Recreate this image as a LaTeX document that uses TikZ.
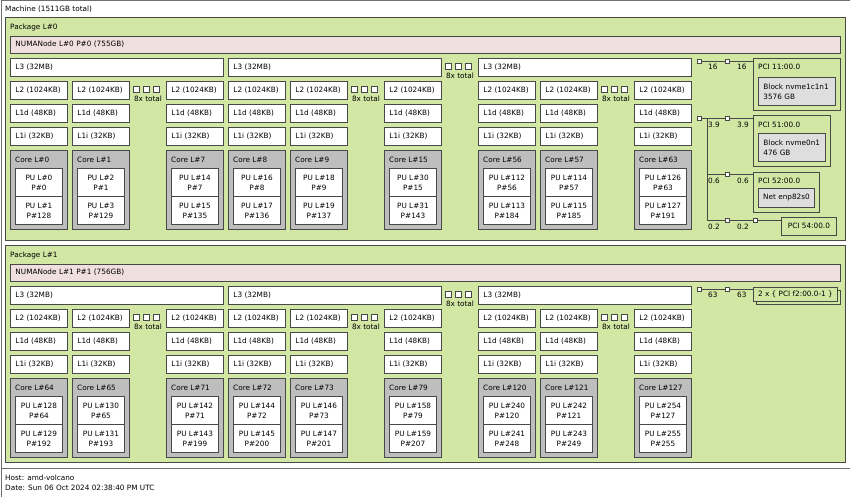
\documentclass[tikz,border=0pt]{standalone}
\usepackage{fontspec}
\setmainfont{DejaVu Sans}
\usepackage{tikz}
\usetikzlibrary{positioning, calc}
\definecolor{pkggreen}{RGB}{210,231,164}
\definecolor{numapink}{RGB}{239,223,222}
\definecolor{coregray}{RGB}{190,190,190}
\definecolor{devgray}{RGB}{222,222,222}
\definecolor{hwline}{RGB}{72,72,72}
\definecolor{frameline}{RGB}{110,110,110}
\tikzset{
  hwbox/.style={draw=hwline, line width=0.9pt, anchor=north west, inner sep=0pt},
  machbox/.style={hwbox, draw=frameline, fill=white},
  pkgbox/.style={hwbox, fill=pkggreen},
  numabox/.style={hwbox, fill=numapink, inner xsep=5pt, align=left,
    text height=5.3pt, text depth=1.5pt},
  cache/.style={hwbox, fill=white, minimum height=18pt, inner xsep=5pt,
    text width=47pt, align=left, text height=5.3pt, text depth=1.5pt},
  corebox/.style={hwbox, fill=coregray, minimum width=57pt, minimum height=79pt},
  pubox/.style={hwbox, fill=white, minimum width=47pt, minimum height=28pt, align=center},
  pcibox/.style={hwbox, fill=pkggreen, text height=5.3pt, text depth=1.5pt},
  devbox/.style={hwbox, fill=devgray, inner xsep=5pt, align=left},
  lbl/.style={anchor=west, inner sep=0pt},
  linksq/.style={draw=hwline, fill=white, line width=0.8pt, minimum size=4pt, inner sep=0pt},
  moresq/.style={draw=hwline, fill=white, line width=0.8pt, minimum size=6pt, inner sep=0pt},
  link/.style={draw=hwline, line width=0.9pt}
}

\begin{document}
\begin{tikzpicture}[x=1pt, y=-1pt, font=\fontsize{7.3}{10}\selectfont]
  \useasboundingbox (0,0) rectangle (850,497);

  % machine and legend
  \node[machbox, minimum width=849pt, minimum height=467.5pt] (machine) at (0.5,0.5) {};
  \node[lbl] (machinelbl) at (5,9) {Machine (1511GB total)};
  \node[machbox, minimum width=849pt, minimum height=28.5pt] (legend) at (0.5,468) {};
  \node[lbl] (host) at (5,478) {Host: amd-volcano};
  \node[lbl] (date) at (5,488) {Date: Sun 06 Oct 2024 02:38:40 PM UTC};

  % packages
  \foreach \p/\mem/\pkt/\pkh in {0/755/17/223, 1/756/245/217} {
    \pgfmathsetmacro\dy{228*\p}
    \node[pkgbox, minimum width=840pt, minimum height=\pkh] (pkg\p) at (5,\pkt) {};
    \node[lbl] (pkglbl\p) at (10,{27+\dy}) {Package L\#\p};
    \node[numabox, minimum width=830pt, minimum height=17pt, text width=820pt] (numa\p)
      at (10,{36+\dy}) {NUMANode L\#\p{} P\#\p{} (\mem GB)};
    \foreach \lx [count=\li] in {10,228,478}
      \node[cache, text width=203pt] (l3-\p-\li) at (\lx,{58+\dy}) {L3 (32MB)};
    \foreach \gx/\gy/\gn in {147.5/81/a, 365.5/81/b, 615.5/81/c, 459.5/58/d} {
      \foreach \k in {-1,0,1}
        \node[moresq] (more-\p-\gn\k) at ({\gx-1+10*\k},{\gy+8+\dy}) {};
      \node[inner sep=0pt] (moretxt-\p-\gn) at ({\gx+0.5},{\gy+18+\dy}) {8x total};
    }
    \foreach \cx/\cn in {10/0,72/1,166/7,228/8,290/9,384/15,478/56,540/57,634/63} {
      \pgfmathtruncatemacro\cid{\cn+64*\p}
      \pgfmathtruncatemacro\pua{2*\cid}
      \pgfmathtruncatemacro\pub{2*\cid+1}
      \pgfmathtruncatemacro\pph{\cid+128}
      \node[cache] (l2-\cid) at (\cx,{81+\dy}) {L2 (1024KB)};
      \node[cache] (l1d-\cid) at (\cx,{104+\dy}) {L1d (48KB)};
      \node[cache] (l1i-\cid) at (\cx,{127+\dy}) {L1i (32KB)};
      \node[corebox] (core-\cid) at (\cx,{150+\dy}) {};
      \node[lbl] (corelbl-\cid) at ({\cx+5},{160+\dy}) {Core L\#\cid};
      \node[pubox] (pu-\pua) at ({\cx+5},{168+\dy}) {PU L\#\pua\\P\#\cid};
      \node[pubox] (pu-\pub) at ({\cx+5},{196+\dy}) {PU L\#\pub\\P\#\pph};
    }
  }

  % I/O of package 0
  \node[linksq] (hb0) at (699,61) {};
  \node[linksq] (sw0) at (727,61) {};
  \node[pcibox, minimum width=87pt, minimum height=52pt] (pci11) at (753,58) {};
  \node[lbl] (pci11lbl) at (758,67) {PCI 11:00.0};
  \node[devbox, text width=67pt, minimum height=28pt] (blk1) at (758,77) {Block nvme1c1n1\\3576 GB};
  \draw[link] (hb0) -- (sw0) -- (sw0 -| pci11.west);
  \node[lbl] (bw0a) at (708,67) {16};
  \node[lbl] (bw0b) at (737,67) {16};

  \node[linksq] (hb1) at (699,118) {};
  \node[linksq] (sw1) at (727,118) {};
  \coordinate (bus1) at (707,118);
  \node[pcibox, minimum width=77pt, minimum height=51pt] (pci51) at (753,115) {};
  \node[lbl] (pci51lbl) at (758,125) {PCI 51:00.0};
  \node[devbox, text width=57pt, minimum height=28pt] (blk2) at (758,133) {Block nvme0n1\\476 GB};
  \draw[link] (hb1) -- (sw1) -- (sw1 -| pci51.west);
  \node[lbl] (bw1a) at (708,125) {3.9};
  \node[lbl] (bw1b) at (737,125) {3.9};

  \node[linksq] (sw2) at (727,174) {};
  \node[pcibox, minimum width=66pt, minimum height=40pt] (pci52) at (753,172) {};
  \node[lbl] (pci52lbl) at (758,181) {PCI 52:00.0};
  \node[hwbox, fill=devgray, minimum width=56pt, minimum height=19pt] (net0) at (758,188) {Net enp82s0};
  \draw[link] (bus1) |- (sw2) -- (sw2 -| pci52.west);
  \node[lbl] (bw2a) at (708,181) {0.6};
  \node[lbl] (bw2b) at (737,181) {0.6};

  \node[linksq] (sw3) at (727,220) {};
  \node[linksq] (sw4) at (755,220) {};
  \node[pcibox, minimum width=55pt, minimum height=18pt] (pci54) at (781,217) {PCI 54:00.0};
  \draw[link] (bus1) |- (sw3) -- (sw4) -- (sw4 -| pci54.west);
  \node[lbl] (bw3a) at (708,227) {0.2};
  \node[lbl] (bw3b) at (737,227) {0.2};

  % I/O of package 1
  \node[linksq] (hb2) at (699,289) {};
  \node[linksq] (sw5) at (727,289) {};
  \node[pcibox, minimum width=84pt, minimum height=14pt] (pcif2back) at (756,290) {};
  \node[pcibox, minimum width=84pt, minimum height=14pt] (pcif2) at (753,287) {2 x \{ PCI f2:00.0-1 \}};
  \draw[link] (hb2) -- (sw5) -- (sw5 -| pcif2.west);
  \node[lbl] (bw4a) at (708,295) {63};
  \node[lbl] (bw4b) at (737,295) {63};
\end{tikzpicture}
\end{document}
